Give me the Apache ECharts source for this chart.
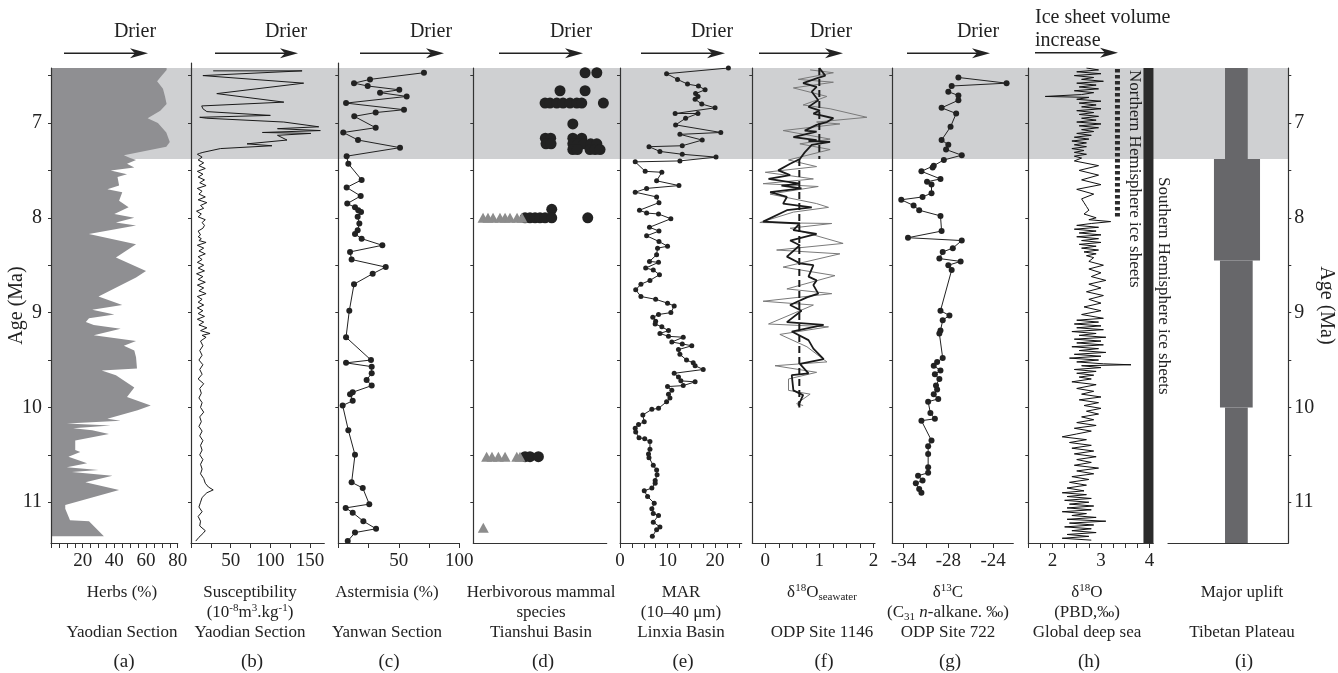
<!DOCTYPE html>
<html>
<head>
<meta charset="utf-8">
<script src="https://cdn.jsdelivr.net/npm/echarts@6/dist/echarts.min.js"></script>
<style>
  html, body { margin: 0; padding: 0; background: #fff; }
  #main { width: 1338px; height: 673px; }
</style>
</head>
<body>
<div id="main"></div>
<script>
// ---- data: every record is [age (Ma), value] ----
const ageTicks = [6.5, 7, 7.5, 8, 8.5, 9, 9.5, 10, 10.5, 11];
const ageLabels = [7, 8, 9, 10, 11];
const coolBand = [6.42, 7.38];

// (a) herbs %, Yaodian
const herbs = [[6.42,73],[6.44,73],[6.5,70],[6.56,67],[6.64,70.7],[6.72,72],[6.8,73],[6.87,69],[6.95,61],[7.0,67.5],[7.1,72.8],[7.2,75],[7.25,72.8],[7.34,46],[7.37,50],[7.39,53.7],[7.43,48],[7.47,52.6],[7.5,37.7],[7.54,48],[7.57,42],[7.66,43],[7.7,35.6],[7.73,45],[7.82,43],[7.89,49],[7.96,40],[8.0,52.6],[8.05,41],[8.08,53.7],[8.17,23.9],[8.28,53.7],[8.42,41],[8.56,60],[8.63,53.7],[8.83,30],[8.92,45],[8.97,26],[9.02,40],[9.06,24],[9.1,22],[9.13,27],[9.17,44],[9.24,27],[9.3,53.7],[9.35,46],[9.4,52.6],[9.47,53.7],[9.59,54.3],[9.61,32],[9.66,41],[9.79,52.6],[9.89,48],[9.98,63],[10.03,54.7],[10.12,35.6],[10.14,44],[10.17,10],[10.19,37.7],[10.22,14],[10.24,26],[10.28,36.6],[10.35,15.3],[10.45,15.3],[10.47,18.5],[10.52,11],[10.59,22.8],[10.63,10],[10.66,30],[10.68,13.2],[10.72,38.8],[10.79,21.7],[10.87,43],[11.03,9],[11.07,9],[11.19,12],[11.2,24],[11.36,33.4]];

// (b) magnetic susceptibility, Yaodian
const suscept = [[6.45,28],[6.45,140],[6.50,15],[6.58,142],[6.69,32.5],[6.78,117],[6.82,13.5],[6.85,15],[6.88,20],[6.92,100],[6.94,11],[6.95,20],[6.99,117],[7.04,161],[7.06,109],[7.08,163],[7.10,90],[7.11,151],[7.13,109],[7.18,121],[7.22,70.6],[7.24,102],[7.27,37],[7.31,15],[7.32,11],
  [7.33,8],[7.36,14],[7.39,9],[7.42,16],[7.45,10],[7.48,18],[7.51,8],[7.54,15],[7.57,9],[7.60,17],[7.63,11],[7.66,19],[7.69,8],[7.72,14],[7.75,10],[7.78,18],[7.81,9],[7.84,20],[7.87,12],[7.90,16],[7.93,7],[7.96,13],[7.99,9],[8.02,18],[8.05,14],[8.08,17],[8.11,15],[8.14,9],[8.16,9],[8.18,12],[8.20,9],[8.22,13],[8.24,10],[8.26,19],[8.29,8],[8.32,16],[8.35,10],[8.38,18],[8.41,9],[8.44,14],[8.47,8],[8.50,16],[8.53,9],[8.56,17],[8.59,7],[8.62,15],[8.65,9],[8.68,18],[8.71,8],[8.74,16],[8.77,10],[8.80,19],[8.83,8],[8.86,14],[8.89,9],[8.92,16],[8.95,8],[8.98,15],[9.01,9],[9.04,17],[9.07,8],[9.10,16],[9.13,10],[9.16,20],[9.19,12],[9.22,24],[9.24,14],[9.26,19],[9.30,12],[9.35,15],[9.40,11],[9.45,14],[9.50,10],[9.55,15],[9.60,11],[9.65,14],[9.70,9],[9.75,16],[9.80,11],[9.85,13],[9.90,10],[9.95,14],[10.00,12],[10.05,16],[10.10,11],[10.15,13],[10.20,10],[10.25,14],[10.30,11],[10.35,15],[10.40,12],[10.45,14],[10.50,11],[10.55,15],[10.60,12],[10.65,14],[10.70,12],[10.75,16],[10.80,18],[10.84,22],[10.87,28],[10.90,20],[10.95,14],[11.00,12],[11.05,10],[11.10,14],[11.15,9],[11.20,12],[11.25,11],[11.30,18],[11.33,15],[11.37,10],[11.41,6]];

// (c) Artemisia %, Yanwan
const artemisia = [[6.47,70.8],[6.54,26.2],[6.58,13],[6.61,24.3],[6.65,50.4],[6.68,34.5],[6.72,56.5],[6.79,6.4],[6.86,54.3],[6.89,30.9],[6.93,13.2],[7.05,30.9],[7.1,4.1],[7.18,16.3],[7.26,51],[7.35,6.9],[7.43,8.3],[7.6,19.3],[7.68,6.9],[7.77,18.5],[7.85,7.4],[7.89,13.8],[7.92,16.5],[7.94,18.8],[7.99,16],[8.06,17.4],[8.13,16],[8.17,13.8],[8.22,19.3],[8.29,36.4],[8.36,9.7],[8.44,11],[8.52,39.2],[8.59,28.4],[8.7,13],[8.98,9.1],[9.26,6.4],[9.5,27],[9.53,6.4],[9.57,27.6],[9.64,27.6],[9.71,23.4],[9.77,27.6],[9.84,11.9],[9.86,9.7],[9.93,11.9],[9.98,3.6],[10.24,8.3],[10.5,13.8],[10.79,11],[10.85,20.2],[11.02,25.6],[11.06,6.1],[11.11,11.9],[11.2,20.7],[11.28,31.2],[11.32,13.8],[11.41,7.8]];

// (d) herbivorous mammal species, Tianshui (relative position within panel)
const mammalCircles = [[6.47,83.8],[6.47,92.6],[6.66,65],[6.66,83.8],[6.79,53.8],[6.79,57.5],[6.79,62.6],[6.79,67.3],[6.79,72.5],[6.79,77.6],[6.79,81.3],[6.79,97.5],[7.01,74.6],[7.16,54],[7.16,58],[7.16,74.6],[7.16,81.3],[7.22,54.5],[7.22,58.3],[7.22,74.6],[7.22,78.5],[7.22,83],[7.22,88],[7.22,92.6],[7.28,74.6],[7.28,78],[7.28,87.5],[7.28,91.3],[7.28,95],[7.91,58.8],[8.0,38.8],[8.0,42.5],[8.0,46.3],[8.0,50],[8.0,53.8],[8.0,58.8],[8.0,85.8],[10.52,38.8],[10.52,42.5],[10.52,48.8]];
const mammalTriangles = [[8.0,7.3],[8.0,11],[8.0,14.8],[8.0,20],[8.0,23.8],[8.0,27.5],[8.0,32.8],[8.0,36.5],[10.52,10],[10.52,14],[10.52,18.8],[10.52,23.8],[10.52,32.6],[10.52,35],[11.27,7.5]];

// (e) MAR 10-40 um, Linxia
const mar = [[6.42,22.8],[6.48,9.8],[6.54,12.1],[6.59,14.2],[6.61,16.5],[6.65,17.9],[6.69,15.9],[6.72,16.4],[6.75,15.8],[6.8,17.2],[6.84,20],[6.9,11.6],[6.9,16.4],[6.95,13.8],[7.02,11.7],[7.1,21.2],[7.12,12.6],[7.18,17.3],[7.24,13.1],[7.25,6.1],[7.3,8.4],[7.33,13.1],[7.36,20.2],[7.4,12.6],[7.41,3.2],[7.51,5.3],[7.52,8.8],[7.61,7.7],[7.66,12.4],[7.69,5.6],[7.73,3.2],[7.78,7.7],[7.84,8.2],[7.92,4.1],[7.95,5.6],[7.96,8.1],[8.01,10.7],[8.1,6.2],[8.14,8.2],[8.19,5.6],[8.25,8.2],[8.3,10],[8.32,7.9],[8.39,7.7],[8.46,6.2],[8.47,8.1],[8.53,5.4],[8.55,7],[8.6,8.3],[8.66,6.3],[8.7,4.4],[8.76,3.3],[8.83,4.4],[8.86,7.5],[8.9,10],[8.93,11.4],[9.0,10.7],[9.02,8.1],[9.05,6.9],[9.09,7.5],[9.12,7.4],[9.15,8.8],[9.19,10.2],[9.22,8.4],[9.25,10.2],[9.26,13.3],[9.31,10.9],[9.33,13.1],[9.35,15.1],[9.39,12.3],[9.44,12.6],[9.5,14],[9.53,15.4],[9.56,15.8],[9.6,17.5],[9.64,11.4],[9.68,12.3],[9.72,12.8],[9.73,15.8],[9.77,13.3],[9.78,10],[9.82,10.9],[9.86,10.2],[9.9,10.5],[9.94,9.8],[10.01,8.1],[10.02,6.7],[10.08,4.8],[10.15,5.1],[10.18,3.9],[10.22,3.2],[10.26,3.3],[10.32,4],[10.33,5.2],[10.36,6.3],[10.44,6.3],[10.49,6],[10.53,6.1],[10.61,7],[10.66,7.7],[10.71,7.8],[10.77,7.4],[10.8,7.4],[10.85,6.7],[10.88,5.1],[10.94,5.8],[11.01,7.2],[11.07,6.7],[11.12,7],[11.14,8.1],[11.21,7],[11.26,8.4],[11.29,7.7],[11.36,6.8]];

// (f) d18O seawater, ODP 1146 (two records + mean levels)
const seawaterBlack = [[6.42,1.0],[6.50,1.11],[6.53,0.95],[6.58,0.70],[6.62,0.95],[6.67,0.86],[6.76,0.98],[6.83,0.80],[6.87,1.01],[6.90,0.89],[6.95,1.26],[6.99,1.14],[7.02,0.95],[7.08,0.73],[7.09,0.95],[7.15,0.52],[7.18,0.95],[7.19,0.80],[7.20,1.20],[7.23,0.86],[7.31,0.73],[7.38,0.64],[7.43,0.46],[7.50,0.24],[7.55,0.46],[7.59,0.06],[7.64,0.64],[7.66,0.30],[7.69,0.67],[7.73,0.09],[7.78,0.40],[7.85,0.33],[7.89,0.86],[7.92,0.40],[8.04,-0.04],[8.06,0.64],[8.13,0.52],[8.17,0.95],[8.24,0.46],[8.29,0.64],[8.41,0.40],[8.48,0.64],[8.50,0.89],[8.62,0.80],[8.66,0.95],[8.71,0.89],[8.80,0.98],[8.84,0.77],[8.92,0.46],[8.98,0.67],[9.10,0.40],[9.13,1.08],[9.20,0.49],[9.29,0.80],[9.38,0.89],[9.49,1.08],[9.54,0.64],[9.64,0.80],[9.66,0.49],[9.82,0.52],[9.87,0.70],[9.98,0.61]];
const seawaterGray = [[6.44,0.83],[6.47,1.26],[6.54,0.61],[6.57,1.26],[6.63,0.52],[6.72,1.14],[6.81,0.70],[6.85,1.20],[6.94,1.88],[6.99,0.95],[7.01,1.38],[7.08,0.33],[7.17,1.20],[7.22,0.64],[7.28,1.20],[7.39,0.43],[7.46,0.95],[7.52,0.0],[7.59,0.89],[7.64,-0.04],[7.67,0.98],[7.75,0.09],[7.85,0.95],[7.89,1.17],[7.94,0.52],[8.05,-0.1],[8.06,1.23],[8.11,0.46],[8.27,1.44],[8.34,0.21],[8.38,1.38],[8.52,0.33],[8.61,1.29],[8.75,0.40],[8.80,1.23],[8.88,-0.04],[8.92,0.89],[9.12,0.06],[9.15,1.17],[9.23,0.27],[9.36,0.77],[9.52,1.14],[9.56,0.18],[9.63,0.95],[9.70,0.43],[9.82,0.43],[9.86,0.83],[9.96,0.58],[9.98,0.70]];
const seawaterMean = [[[6.42,1.0],[7.38,1.0]], [[7.38,0.63],[10.0,0.63]]];

// (g) d13C C31 n-alkane, ODP 722
const d13c = [[6.52,-27.1],[6.58,-22.8],[6.61,-27.7],[6.67,-28],[6.71,-27.1],[6.76,-27.1],[6.84,-28.6],[6.90,-27.3],[7.04,-27.8],[7.18,-28.6],[7.23,-28],[7.28,-28.2],[7.34,-26.8],[7.39,-28.4],[7.45,-29.3],[7.47,-29.4],[7.51,-30.4],[7.59,-28.7],[7.62,-29.9],[7.65,-29.5],[7.74,-29.5],[7.78,-30.3],[7.81,-32.2],[7.87,-31.1],[7.92,-30.6],[7.98,-28.7],[8.14,-28.6],[8.21,-31.6],[8.24,-26.8],[8.32,-27.6],[8.36,-28.5],[8.43,-28.8],[8.46,-26.9],[8.5,-28],[8.55,-27.7],[8.98,-28.7],[9.03,-27.9],[9.08,-28.5],[9.19,-28.7],[9.22,-28.8],[9.48,-28.5],[9.52,-29.0],[9.56,-29.3],[9.61,-28.7],[9.65,-29.2],[9.70,-28.8],[9.77,-29.1],[9.81,-29.0],[9.86,-29.3],[9.91,-28.9],[9.94,-29.8],[10.06,-29.6],[10.12,-29.2],[10.14,-30.4],[10.35,-29.5],[10.41,-29.8],[10.49,-29.8],[10.63,-29.8],[10.69,-29.8],[10.72,-30.7],[10.77,-30.3],[10.8,-30.9],[10.86,-30.6],[10.9,-30.4]];

// (h) benthic d18O, global deep sea
const d18o = [[6.42,2.7],[6.44,2.95],[6.46,2.5],[6.48,3.0],[6.50,2.45],[6.52,2.85],[6.54,2.6],[6.56,3.05],[6.58,2.5],[6.60,2.9],[6.62,2.55],[6.64,2.95],[6.66,2.45],[6.68,2.85],[6.70,2.6],[6.72,1.85],[6.73,2.75],[6.75,2.5],[6.77,3.0],[6.79,2.55],[6.81,2.9],[6.83,2.6],[6.85,3.0],[6.87,2.5],[6.89,2.85],[6.91,2.55],[6.93,2.95],[6.95,2.6],[6.97,2.9],[6.99,2.5],[7.01,3.0],[7.03,2.55],[7.05,2.95],[7.07,2.6],[7.09,2.85],[7.11,2.5],[7.13,2.8],[7.15,2.45],[7.17,2.75],[7.19,2.4],[7.21,2.7],[7.23,2.45],[7.25,2.7],[7.27,2.4],[7.29,2.65],[7.31,2.45],[7.33,2.7],[7.35,2.45],[7.37,2.6],
  [7.40,2.45],[7.45,2.95],[7.50,2.55],[7.55,2.95],[7.60,2.6],[7.65,3.0],[7.70,2.5],[7.75,2.85],[7.80,2.6],[7.84,2.65],[7.88,2.7],[7.92,2.75],[7.96,2.65],[8.00,2.9],[8.02,2.75],
  [8.04,3.2],[8.06,2.8],[8.08,2.5],[8.10,2.95],[8.12,2.45],[8.14,2.9],[8.16,2.55],[8.18,3.0],[8.20,2.5],[8.22,2.95],[8.24,2.6],[8.26,3.0],[8.28,2.55],[8.30,2.9],[8.32,2.6],[8.34,2.95],[8.36,2.65],[8.38,2.9],[8.40,2.7],[8.42,2.85],
  [8.46,2.75],[8.50,3.05],[8.54,2.75],[8.58,3.0],[8.62,2.8],[8.66,3.1],[8.70,2.75],[8.74,3.0],[8.78,2.7],[8.82,3.05],[8.86,2.75],[8.90,3.0],[8.94,2.65],[8.98,3.0],[9.02,2.6],[9.06,3.05],
  [9.08,2.5],[9.10,2.95],[9.12,2.45],[9.14,3.0],[9.16,2.5],[9.18,3.05],[9.20,2.4],[9.22,2.9],[9.24,2.55],[9.26,3.1],[9.28,2.45],[9.30,3.0],[9.32,2.5],[9.34,3.05],[9.36,2.4],[9.38,2.95],[9.40,2.55],[9.42,3.1],[9.44,2.45],[9.46,3.0],[9.48,2.35],[9.50,2.95],[9.52,2.5],[9.54,3.05],[9.55,3.62],[9.56,2.6],[9.58,3.0],[9.60,2.45],[9.62,2.9],[9.64,2.5],[9.66,2.85],[9.68,2.55],[9.70,2.8],
  [9.73,2.4],[9.76,2.9],[9.80,2.5],[9.83,2.85],[9.86,2.6],[9.89,3.0],[9.92,2.55],[9.95,2.95],[9.98,2.65],[10.01,3.0],[10.04,2.7],[10.07,2.95],[10.10,2.6],[10.13,2.85],[10.16,2.5],[10.19,2.9],[10.22,2.45],[10.25,2.8],[10.28,2.5],[10.31,2.2],
  [10.34,2.7],[10.37,2.35],[10.40,2.8],[10.43,2.4],[10.46,2.85],[10.49,2.45],[10.52,2.9],[10.55,2.5],[10.58,2.8],[10.61,2.45],[10.64,2.95],[10.67,2.5],[10.70,2.85],[10.73,2.4],[10.76,2.75],[10.79,2.35],[10.82,2.7],[10.85,2.3],[10.88,2.65],
  [10.90,2.2],[10.92,2.7],[10.94,2.3],[10.96,2.8],[10.98,2.25],[11.00,2.75],[11.02,2.35],[11.04,2.85],[11.06,2.3],[11.08,2.8],[11.10,2.2],[11.12,2.7],[11.14,2.4],[11.16,2.9],[11.18,2.3],[11.20,3.1],[11.22,2.35],[11.24,2.85],[11.26,2.25],[11.28,2.8],[11.30,2.4],[11.32,2.9],[11.34,2.3],[11.36,2.75],[11.38,2.2],[11.40,2.8]];
const southIce = [[6.42,3.98],[11.43,3.98]];
const northIce = [[6.43,3.34],[8.0,3.34]];

// (i) Tibetan Plateau major uplift: [ageTop, ageBottom, left, right]
const uplift = [[6.42,7.38,47.4,66.3],[7.38,8.45,38.2,76.5],[8.45,10.0,43.2,70.4],[10.0,11.43,47.4,66.3]];

// ---- layout ----
const FONT = '"Liberation Serif", "Times New Roman", serif';
const INK = '#222';
const TOP = 68, BOTTOM = 130;
const AGE_MIN = 6.42, AGE_MAX = 11.43;

const panels = [
  { left: 51,    right: 177.7, min: 0,     max: 80,   ticks: [0,5,10,15,20,25,30,35,40,45,50,55,60,65,70,75,80], labels: [20,40,60,80] },
  { left: 191,   right: 324.3, min: 0,     max: 168,  ticks: [0,25,50,75,100,125,150], labels: [50,100,150], top: 63 },
  { left: 338.3, right: 459.3, min: 0,     max: 100,  ticks: [0,25,50,75,100], labels: [50,100], top: 63 },
  { left: 473.3, right: 606.7, min: 0,     max: 100,  ticks: [], labels: [] },
  { left: 620,   right: 741.7, min: 0,     max: 25.6, ticks: [0,2.5,5,7.5,10,12.5,15,17.5,20,22.5,25], labels: [0,10,20] },
  { left: 752.3, right: 875,   min: -0.24, max: 2.03, ticks: [0,0.25,0.5,0.75,1,1.25,1.5,1.75,2], labels: [0,1,2] },
  { left: 892.3, right: 1013.3,min: -33,   max: -22.2,ticks: [-32,-30,-28,-26,-24], labels: [-32,-28,-24],
    fmt: v => (v === -32 ? '-34' : String(v)) },
  { left: 1028.3,right: 1153.3,min: 1.5,   max: 4.08, ticks: [1.5,1.75,2,2.25,2.5,2.75,3,3.25,3.5,3.75,4], labels: [2,3,4] },
  { left: 1168,  right: 1288.3,min: 0,     max: 100,  ticks: [], labels: [] }
];

const grids = [], xAxes = [], yAxes = [];
panels.forEach((p, i) => {
  const top = p.top || TOP;
  grids.push({ left: p.left, width: p.right - p.left, top: top, height: 673 - BOTTOM - top });
  xAxes.push({
    type: 'value', gridIndex: i, min: p.min, max: p.max, z: 5,
    axisLine: { show: true, onZero: false, lineStyle: { color: '#333', width: 1.2 } },
    axisTick: { show: p.ticks.length > 0, customValues: p.ticks, length: 5, lineStyle: { color: '#333' } },
    axisLabel: { show: p.labels.length > 0, customValues: p.labels, margin: 9, color: INK,
      fontFamily: FONT, fontSize: 19, formatter: p.fmt },
    splitLine: { show: false }
  });
  const ageMin = AGE_MIN - (TOP - top) / 94.8;
  const right = i === 8;
  yAxes.push({
    type: 'value', gridIndex: i, inverse: true, min: ageMin, max: AGE_MAX, z: 5,
    position: right ? 'right' : 'left',
    axisLine: { show: true, onZero: false, lineStyle: { color: '#333', width: 1.2 } },
    axisTick: { show: true, customValues: ageTicks, length: 3, lineStyle: { color: '#333' } },
    axisLabel: { show: i === 0 || right, customValues: ageLabels, margin: right ? 6 : 9,
      color: INK, fontFamily: FONT, fontSize: 20 },
    splitLine: { show: false },
    name: (i === 0 || right) ? 'Age (Ma)' : '',
    nameLocation: 'middle', nameGap: right ? 28 : 24, nameRotate: right ? -90 : 90,
    nameMoveOverlap: false,
    nameTextStyle: { color: INK, fontFamily: FONT, fontSize: 20 }
  });
});
// background grid for the shaded interval spanning all panels
grids.push({ left: 51, width: 1288.3 - 51, top: TOP, height: 673 - BOTTOM - TOP });
xAxes.push({ type: 'value', gridIndex: 9, min: 0, max: 1, show: false });
yAxes.push({ type: 'value', gridIndex: 9, inverse: true, min: AGE_MIN, max: AGE_MAX, show: false });

const flip = arr => arr.map(d => [d[1], d[0]]);
const plainLine = (idx, data, color, width, extra) => Object.assign({
  type: 'line', xAxisIndex: idx, yAxisIndex: idx, data: data, symbol: 'none',
  lineStyle: { color: color, width: width }, animation: false, silent: true
}, extra || {});

const series = [
  {
    type: 'custom', xAxisIndex: 9, yAxisIndex: 9, z: 1, silent: true, animation: false,
    data: [[0, coolBand[0], 1, coolBand[1]]],
    renderItem: (params, api) => {
      const a = api.coord([api.value(0), api.value(1)]);
      const b = api.coord([api.value(2), api.value(3)]);
      return { type: 'rect', shape: { x: a[0], y: a[1], width: b[0] - a[0], height: b[1] - a[1] },
        style: { fill: '#cfd0d2' } };
    }
  },
  {
    type: 'custom', xAxisIndex: 0, yAxisIndex: 0, silent: true, animation: false,
    data: flip(herbs),
    renderItem: (params, api) => {
      if (params.dataIndex !== 0) return null;
      const pts = [api.coord([0, herbs[0][0]])];
      herbs.forEach(d => pts.push(api.coord([d[1], d[0]])));
      pts.push(api.coord([0, herbs[herbs.length - 1][0]]));
      return { type: 'polygon', shape: { points: pts }, style: { fill: '#8f8f92' } };
    }
  },
  plainLine(1, flip(suscept), '#1a1a1a', 1),
  plainLine(2, flip(artemisia), '#222', 1, { symbol: 'circle', symbolSize: 6, itemStyle: { color: '#222' } }),
  {
    type: 'scatter', xAxisIndex: 3, yAxisIndex: 3, data: flip(mammalCircles), symbol: 'circle',
    symbolSize: 11, itemStyle: { color: '#222', opacity: 1 }, animation: false, silent: true
  },
  {
    type: 'scatter', xAxisIndex: 3, yAxisIndex: 3, data: flip(mammalTriangles), symbol: 'triangle',
    symbolSize: [11, 10], itemStyle: { color: '#8c8c8c', opacity: 1 }, animation: false, silent: true, z: 3
  },
  plainLine(4, flip(mar), '#222', 1, { symbol: 'circle', symbolSize: 5, itemStyle: { color: '#222' } }),
  plainLine(5, flip(seawaterGray), '#7a7a7a', 1),
  plainLine(5, flip(seawaterBlack), '#1a1a1a', 1.8),
  plainLine(5, flip(seawaterMean[0]), '#1a1a1a', 2, { lineStyle: { color: '#1a1a1a', width: 2, type: [7, 4] } }),
  plainLine(5, flip(seawaterMean[1]), '#1a1a1a', 2, { lineStyle: { color: '#1a1a1a', width: 2, type: [7, 4] } }),
  plainLine(6, flip(d13c), '#222', 1, { symbol: 'circle', symbolSize: 6, itemStyle: { color: '#222' } }),
  plainLine(7, flip(d18o), '#111', 1),
  plainLine(7, flip(southIce), '#2b2b2b', 10),
  plainLine(7, flip(northIce), '#2b2b2b', 5, { lineStyle: { color: '#2b2b2b', width: 5, type: [3.5, 2.5] } }),
  {
    type: 'custom', xAxisIndex: 8, yAxisIndex: 8, silent: true, animation: false,
    data: uplift,
    renderItem: (params, api) => {
      const a = api.coord([api.value(2), api.value(0)]);
      const b = api.coord([api.value(3), api.value(1)]);
      return { type: 'rect', shape: { x: a[0], y: a[1], width: b[0] - a[0], height: b[1] - a[1] },
        style: { fill: '#67676a' } };
    }
  }
];

// ---- annotations ----
const rich = {
  sup: { fontSize: 11, fontFamily: FONT, fill: INK, verticalAlign: 'top', lineHeight: 20 },
  sub: { fontSize: 11, fontFamily: FONT, fill: INK, verticalAlign: 'bottom', lineHeight: 20 },
  i: { fontSize: 17, fontFamily: FONT, fontStyle: 'italic', fill: INK, lineHeight: 20 },
  n: { fontSize: 17, fontFamily: FONT, fill: INK, lineHeight: 20 }
};
function txt(x, y, text, size, opt) {
  return Object.assign({
    type: 'text', x: x, y: y, silent: true, z: 20,
    style: { text: text, fill: INK, font: size + 'px ' + FONT, fontSize: size, fontFamily: FONT,
      textAlign: 'center', textVerticalAlign: 'middle', rich: rich }
  }, opt || {});
}
function arrow(x1, x2, y) {
  return {
    type: 'group', silent: true, z: 20,
    children: [
      { type: 'line', shape: { x1: x1, y1: y, x2: x2 - 10, y2: y }, style: { stroke: '#222', lineWidth: 1.5 } },
      { type: 'polygon', shape: { points: [[x2, y], [x2 - 18, y - 5], [x2 - 13, y], [x2 - 18, y + 5]] },
        style: { fill: '#222' } }
    ]
  };
}

const graphics = [];
const drier = [[135, 64, 148], [286, 215, 298], [431, 360, 444], [571, 499, 583], [712, 641, 725], [831, 759, 843], [978, 907, 990]];
drier.forEach(d => { graphics.push(txt(d[0], 32, 'Drier', 20)); graphics.push(arrow(d[1], d[2], 53.3)); });
graphics.push(txt(1035, 18, 'Ice sheet volume', 20, {}));
graphics[graphics.length - 1].style.textAlign = 'left';
graphics.push(txt(1035, 41, 'increase', 20, {}));
graphics[graphics.length - 1].style.textAlign = 'left';
graphics.push(arrow(1035, 1118, 52.7));

const bottomText = [
  [122, 'Herbs (%)', '', 'Yaodian Section', '(a)'],
  [250, 'Susceptibility', '(10{sup|-8}m{sup|3}.kg{sup|-1})', 'Yaodian Section', '(b)'],
  [387, 'Astermisia (%)', '', 'Yanwan Section', '(c)'],
  [541, 'Herbivorous mammal', 'species', 'Tianshui Basin', '(d)'],
  [681, 'MAR', '(10\u201340 \u03bcm)', 'Linxia Basin', '(e)'],
  [822, '\u03b4{sup|18}O{sub|seawater}', '', 'ODP Site 1146', '(f)'],
  [948, '\u03b4{sup|13}C', '(C{sub|31} {i|n}-alkane. \u2030)', 'ODP Site 722', '(g)'],
  [1087, '\u03b4{sup|18}O', '(PBD,\u2030)', 'Global deep sea', '(h)'],
  [1242, 'Major uplift', '', 'Tibetan Plateau', '(i)']
];
bottomText.forEach(b => {
  graphics.push(txt(b[0], 593, b[1], 17));
  if (b[2]) graphics.push(txt(b[0], 613, b[2], 17));
  graphics.push(txt(b[0], 633, b[3], 17));
  graphics.push(txt(b[0] + 2, 662, b[4], 19));
});

const north = txt(1134, 70, 'Northern Hemisphere ice sheets', 17, { rotation: -Math.PI / 2 });
north.style.textAlign = 'left';
const south = txt(1163, 177, 'Southern Hemisphere ice sheets', 17, { rotation: -Math.PI / 2 });
south.style.textAlign = 'left';
graphics.push(north, south);

const chart = echarts.init(document.getElementById('main'), null, { renderer: 'canvas' });
chart.setOption({
  backgroundColor: '#ffffff',
  animation: false,
  grid: grids,
  xAxis: xAxes,
  yAxis: yAxes,
  series: series,
  graphic: graphics
});
</script>
</body>
</html>
